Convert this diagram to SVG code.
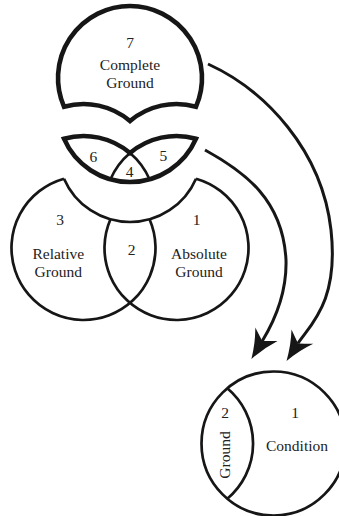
<svg xmlns="http://www.w3.org/2000/svg" width="339" height="516" viewBox="0 0 339 516">
<style>
.thick{fill:none;stroke:#161616;stroke-width:4.6;stroke-linejoin:miter;stroke-miterlimit:20}
.thin{fill:none;stroke:#161616;stroke-width:2.7}
.conn{fill:none;stroke:#161616;stroke-width:3}
text{font-family:"Liberation Serif","DejaVu Serif",serif;font-size:15.5px;fill:#222;text-anchor:middle}
</style>
<defs>
<marker id="ah" markerUnits="userSpaceOnUse" markerWidth="44" markerHeight="44" viewBox="-22 -22 44 44" refX="0" refY="0" orient="auto" overflow="visible">
<path d="M21,0 Q5,-5 -8,-13 Q-3,-5 0,0 Q-3,5 -8,13 Q5,5 21,0 Z" fill="#161616"/>
</marker>
</defs>
<rect width="339" height="516" fill="#fff"/>
<g id="connectors">
<path class="conn" d="M208,64 C265,90 322,150 331,230 C339,302 310,325 298,343.4" marker-end="url(#ah)"/>
<path class="conn" d="M205,150 C245,172 283,200 286,260 C287,295 272,325 262.3,341" marker-end="url(#ah)"/>
</g>
<g id="node-complete-ground">
<path class="thick" d="M63.97,106.7 A72,72 0 1 1 196.03,106.7 A72,72 0 0 0 130,121 A72,72 0 0 0 63.97,106.7 Z"/>
<text x="130" y="48">7</text>
<text x="130" y="70">Complete</text>
<text x="130" y="88">Ground</text>
</g>
<g id="node-overlap">
<path class="thin" d="M130,153 A72,72 0 0 0 110.47,179.3 M130,153 A72,72 0 0 1 149.53,179.3"/>
<path class="thick" stroke-width="5" d="M63.97,138.7 A72,72 0 0 1 130,153 A72,72 0 0 1 196.03,138.7 A72,72 0 0 1 63.97,138.7 Z"/>
<text x="93.3" y="161.5">6</text>
<text x="163.3" y="161">5</text>
<text x="129.5" y="176.5">4</text>
</g>
<g id="node-grounds">
<path class="thin" d="M63.97,178.7 A72,72 0 1 0 149.53,219.3"/>
<path class="thin" d="M196.03,178.7 A72,72 0 1 1 110.47,219.3"/>
<path class="thin" d="M63.97,178.7 A72,72 0 0 0 196.03,178.7"/>
<text x="60" y="225">3</text>
<text x="196.7" y="225">1</text>
<text x="131.7" y="255">2</text>
<text x="58.3" y="259">Relative</text>
<text x="58.3" y="277">Ground</text>
<text x="199" y="259">Absolute</text>
<text x="199" y="277">Ground</text>
</g>
<g id="node-condition">
<circle class="thin" cx="273.5" cy="443.5" r="72"/>
<path class="thin" d="M227.3,388.3 A72,72 0 0 1 227.3,498.7"/>
<text x="225" y="418">2</text>
<text x="295" y="418">1</text>
<text x="297" y="451">Condition</text>
<text transform="translate(230,455) rotate(-90)" x="0" y="0">Ground</text>
</g>
</svg>
